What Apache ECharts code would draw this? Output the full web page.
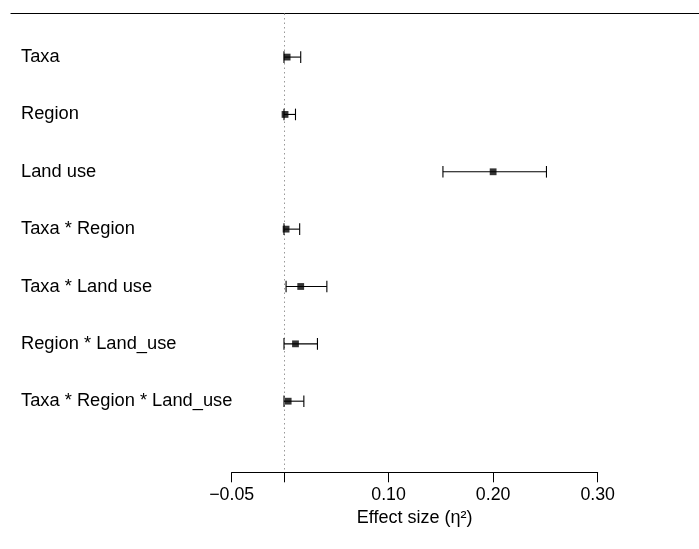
<!DOCTYPE html>
<html>
<head>
<meta charset="utf-8">
<script src="https://cdn.jsdelivr.net/npm/echarts@6/dist/echarts.min.js"></script>
<style>
  html, body { margin: 0; padding: 0; background: #fff; }
  #chart { width: 699px; height: 549px; }
</style>
</head>
<body>
<div id="chart"></div>
<script>
// Model terms, from top to bottom
const terms = ['Taxa', 'Region', 'Land use', 'Taxa * Region', 'Taxa * Land use', 'Region * Land_use', 'Taxa * Region * Land_use'];
// Effect size estimates (eta squared) with their interval bounds
const estimate = [0.003, 0.001, 0.200, 0.002, 0.016, 0.011, 0.004];
const lower = [0.000, 0.000, 0.152, 0.000, 0.002, 0.000, 0.000];
const upper = [0.016, 0.011, 0.251, 0.015, 0.041, 0.032, 0.019];
// Axis tick positions and which of them carry labels
const tickValues = [-0.05, 0, 0.10, 0.20, 0.30];
const labelValues = [-0.05, 0.10, 0.20, 0.30];

const FONT = '"Liberation Sans", Arial, Helvetica, sans-serif';

const rows = terms.map((t, i) => i + 1);
const pointData = estimate.map((v, i) => [v, rows[i]]);
const barData = estimate.map((v, i) => [lower[i], upper[i], rows[i]]);

const chart = echarts.init(document.getElementById('chart'), null, { renderer: 'canvas' });

chart.setOption({
  animation: false,
  backgroundColor: '#ffffff',
  grid: [
    { left: 231.7, right: 101.3, top: 13.5, bottom: 76.7, containLabel: false },
    { left: 11, right: 0, top: 13.5, height: 1, containLabel: false }
  ],
  xAxis: [
    {
      type: 'value',
      gridIndex: 0,
      min: -0.05,
      max: 0.30,
      position: 'bottom',
      axisLine: { show: true, onZero: false, lineStyle: { color: '#000', width: 1 } },
      axisTick: { show: true, length: 10, lineStyle: { color: '#000', width: 1 }, customValues: tickValues },
      axisLabel: {
        show: true,
        customValues: labelValues,
        margin: 14,
        color: '#000',
        fontSize: 17.8,
        fontFamily: FONT,
        formatter: v => (v < 0 ? '\u2212' : '') + Math.abs(v).toFixed(2)
      },
      splitLine: { show: false },
      name: 'Effect size (\u03b7\u00b2)',
      nameLocation: 'middle',
      nameGap: 32,
      nameTextStyle: { color: '#000', fontSize: 18, fontFamily: FONT }
    },
    {
      type: 'value',
      gridIndex: 1,
      position: 'top',
      axisLine: { show: true, onZero: false, lineStyle: { color: '#000', width: 1.2 } },
      axisTick: { show: false },
      axisLabel: { show: false },
      splitLine: { show: false }
    }
  ],
  yAxis: [
    {
      type: 'value',
      gridIndex: 0,
      min: 0.24,
      max: 8.24,
      inverse: true,
      axisLine: { show: false },
      axisTick: { show: false },
      splitLine: { show: false },
      axisLabel: {
        show: true,
        customValues: rows,
        align: 'left',
        margin: 210.7,
        color: '#000',
        fontSize: 18.3,
        fontFamily: FONT,
        formatter: v => terms[Math.round(v) - 1]
      }
    },
    {
      type: 'value',
      gridIndex: 1,
      show: false
    }
  ],
  series: [
    {
      type: 'custom',
      xAxisIndex: 0,
      yAxisIndex: 0,
      data: barData,
      encode: { x: [0, 1], y: 2 },
      renderItem: function (params, api) {
        const lo = api.coord([api.value(0), api.value(2)]);
        const hi = api.coord([api.value(1), api.value(2)]);
        const h = 5.8;
        const style = { stroke: '#000', lineWidth: 1.1, fill: null };
        return {
          type: 'group',
          children: [
            { type: 'line', shape: { x1: lo[0], y1: lo[1], x2: hi[0], y2: hi[1] }, style: style },
            { type: 'line', shape: { x1: lo[0], y1: lo[1] - h, x2: lo[0], y2: lo[1] + h }, style: style },
            { type: 'line', shape: { x1: hi[0], y1: hi[1] - h, x2: hi[0], y2: hi[1] + h }, style: style }
          ]
        };
      },
      z: 2
    },
    {
      type: 'scatter',
      xAxisIndex: 0,
      yAxisIndex: 0,
      data: pointData,
      symbol: 'rect',
      symbolSize: 6.8,
      itemStyle: { color: '#000' },
      z: 3,
      markLine: {
        silent: true,
        symbol: ['none', 'none'],
        label: { show: false },
        lineStyle: { color: '#999999', type: [1.5, 3], width: 1 },
        data: [{ xAxis: 0 }],
        z: 1
      }
    }
  ]
});
</script>
</body>
</html>
